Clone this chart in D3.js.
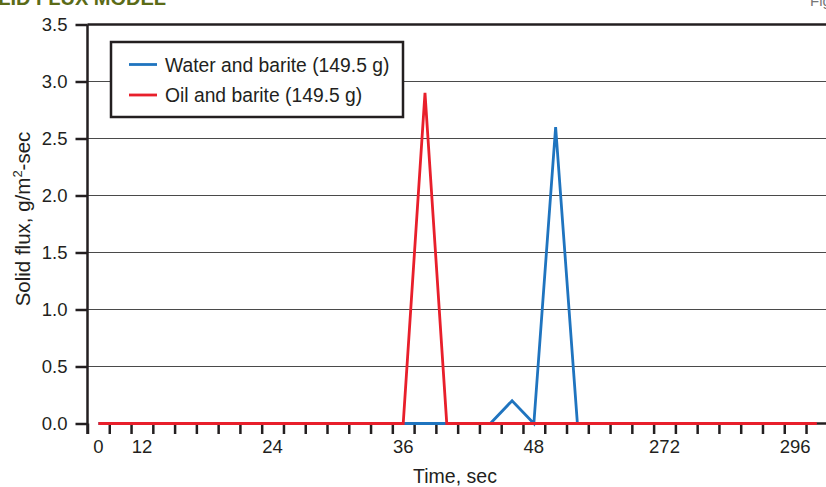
<!DOCTYPE html>
<html>
<head>
<meta charset="utf-8">
<script src="https://cdn.jsdelivr.net/npm/d3@7"></script>
<style>
  html, body { margin: 0; padding: 0; background: #fff; }
  svg { display: block; font-family: "Liberation Sans", Arial, Helvetica, sans-serif; }
</style>
</head>
<body>
<svg id="chart" width="826" height="487"></svg>
<script>
// Time slots along the x axis (one band per sample)
const timeSlots = [0, 1, 2, 3, 4, 5, 6, 7, 8, 9, 10, 11, 12, 13, 14, 15, 16,
                   17, 18, 19, 20, 21, 22, 23, 24, 25, 26, 27, 28, 29, 30, 31, 32, 33];

// Labelled slots and their labels
const labelSlots = [0, 2, 8, 14, 20, 26, 32];
const labelText = ["0", "12", "24", "36", "48", "272", "296"];

// Solid flux, g/m²-sec, per slot
const waterBarite = [0, 0, 0, 0, 0, 0, 0, 0, 0, 0, 0, 0, 0, 0, 0, 0, 0,
                     0, 0, 0.2, 0, 2.6, 0, 0, 0, 0, 0, 0, 0, 0, 0, 0, 0, 0];
const oilBarite   = [0, 0, 0, 0, 0, 0, 0, 0, 0, 0, 0, 0, 0, 0, 0, 2.9, 0,
                     0, 0, 0, 0, 0, 0, 0, 0, 0, 0, 0, 0, 0, 0, 0, 0, 0];

const yTicks = [0, 0.5, 1.0, 1.5, 2.0, 2.5, 3.0, 3.5];

const seriesNames = ["Water and barite (149.5 g)", "Oil and barite (149.5 g)"];
const seriesColors = ["#1f74bf", "#e81f2b"];

const ink = "#231f20";
const svg = d3.select("#chart");

const plotLeft = 87.5, plotRight = 827.8, plotTop = 24.5, plotBottom = 423.5;

const x = d3.scaleBand().domain(timeSlots).range([plotLeft, plotRight]).paddingInner(0).paddingOuter(0);
const xEdge = d3.scaleLinear().domain([0, timeSlots.length]).range([plotLeft, plotRight]);
const y = d3.scaleLinear().domain([0, 3.5]).range([plotBottom, plotTop]);

// Title strip along the top edge
svg.append("text")
  .attr("x", 166).attr("y", 5)
  .attr("text-anchor", "end")
  .attr("font-size", 20).attr("font-weight", "bold")
  .attr("fill", "#5b6b17")
  .text("SOLID FLUX MODEL");
svg.append("text")
  .attr("x", 810).attr("y", 6)
  .attr("font-size", 15)
  .attr("fill", "#777")
  .text("Figure");

// Horizontal gridlines
svg.append("g")
  .selectAll("line")
  .data(yTicks.filter(d => d > 0))
  .join("line")
  .attr("x1", plotLeft).attr("x2", 826)
  .attr("y1", d => y(d)).attr("y2", d => y(d))
  .attr("stroke", d => d === 3.5 ? ink : "#4a4a4a")
  .attr("stroke-width", d => d === 3.5 ? 2.5 : 1);

// Y axis
const yAxis = svg.append("g")
  .attr("transform", `translate(${plotLeft},0)`)
  .call(d3.axisLeft(y).tickValues(yTicks).tickFormat(d3.format(".1f")).tickSize(12).tickPadding(8));
yAxis.select(".domain").remove();
yAxis.selectAll(".tick line").attr("stroke", ink).attr("stroke-width", 2.5);
yAxis.selectAll(".tick text").attr("font-size", 18.5).attr("fill", ink)
  .attr("font-family", "Liberation Sans, Arial, sans-serif");
yAxis.append("line")
  .attr("x1", 0).attr("x2", 0).attr("y1", plotTop).attr("y2", plotBottom + 10.5)
  .attr("stroke", ink).attr("stroke-width", 2.5);

// X axis: ticks on slot boundaries
const xTickAxis = svg.append("g")
  .attr("transform", `translate(0,${plotBottom})`)
  .call(d3.axisBottom(xEdge).tickValues(timeSlots).tickFormat("").tickSize(10.5));
xTickAxis.select(".domain").remove();
xTickAxis.selectAll(".tick line").attr("stroke", ink).attr("stroke-width", 2.5);

// X axis labels at slot centres
const xLabelAxis = svg.append("g")
  .attr("transform", `translate(0,${plotBottom})`)
  .call(d3.axisBottom(x).tickValues(labelSlots)
    .tickFormat(d => labelText[labelSlots.indexOf(d)]).tickSize(0).tickPadding(16));
xLabelAxis.select(".domain").remove();
xLabelAxis.selectAll(".tick text").attr("font-size", 18.5).attr("fill", ink)
  .attr("font-family", "Liberation Sans, Arial, sans-serif");

// Series lines (oil drawn last, on top)
const line = d3.line()
  .x((d, i) => x(timeSlots[i]) + x.bandwidth() / 2)
  .y(d => y(d));

[waterBarite, oilBarite].forEach((vals, k) => {
  svg.append("path")
    .datum(vals)
    .attr("d", line)
    .attr("fill", "none")
    .attr("stroke", seriesColors[k])
    .attr("stroke-width", 2.8)
    .attr("stroke-linejoin", "miter");
});

// Baseline stub beyond the last point
svg.append("line")
  .attr("x1", x(timeSlots[timeSlots.length - 1]) + x.bandwidth() / 2).attr("x2", 826)
  .attr("y1", plotBottom).attr("y2", plotBottom)
  .attr("stroke", ink).attr("stroke-width", 2.5);

// Axis titles
svg.append("text")
  .attr("x", 455).attr("y", 483)
  .attr("text-anchor", "middle")
  .attr("font-size", 19.5).attr("fill", ink)
  .text("Time, sec");

const yTitle = svg.append("text")
  .attr("transform", "translate(30,219) rotate(-90)")
  .attr("text-anchor", "middle")
  .attr("font-size", 20.5).attr("fill", ink);
yTitle.append("tspan").text("Solid flux, g/m");
yTitle.append("tspan").attr("font-size", 13).attr("dy", -8).text("2");
yTitle.append("tspan").attr("dy", 8).text("-sec");

// Legend
const legend = svg.append("g");
legend.append("rect")
  .attr("x", 111).attr("y", 42).attr("width", 292).attr("height", 75)
  .attr("fill", "#fff").attr("stroke", ink).attr("stroke-width", 2.5);
seriesNames.forEach((name, k) => {
  const ly = 64.5 + k * 30.5;
  legend.append("line")
    .attr("x1", 129).attr("x2", 157).attr("y1", ly).attr("y2", ly)
    .attr("stroke", seriesColors[k]).attr("stroke-width", 2.8);
  legend.append("text")
    .attr("x", 165).attr("y", ly + 7)
    .attr("font-size", 19.3).attr("fill", ink)
    .text(name);
});
</script>
</body>
</html>
